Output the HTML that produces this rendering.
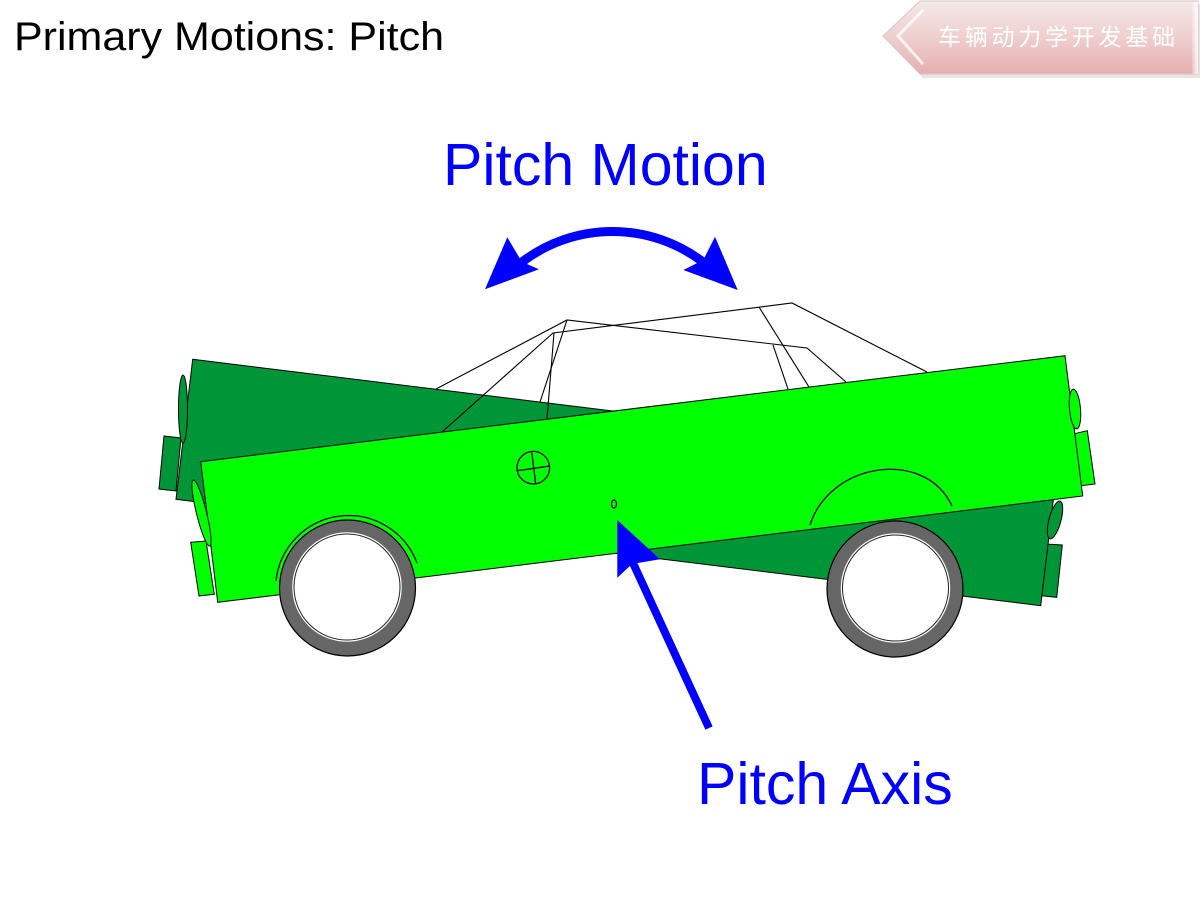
<!DOCTYPE html>
<html>
<head>
<meta charset="utf-8">
<style>
  html,body{margin:0;padding:0;background:#fff;}
  body{width:1200px;height:900px;overflow:hidden;}
  svg{display:block;}
</style>
</head>
<body>
<svg width="1200" height="900" viewBox="0 0 1200 900" xmlns="http://www.w3.org/2000/svg">
  <defs>
    <linearGradient id="badge" x1="0" y1="0" x2="0" y2="1">
      <stop offset="0" stop-color="#f4e8e8"/>
      <stop offset="0.5" stop-color="#efcfcf"/>
      <stop offset="1" stop-color="#e6aeae"/>
    </linearGradient>
    <linearGradient id="bevelR" x1="0" y1="0" x2="1" y2="0">
      <stop offset="0" stop-color="#ffffff" stop-opacity="0.2"/>
      <stop offset="1" stop-color="#ffffff" stop-opacity="0.9"/>
    </linearGradient>
  </defs>

  <!-- Title -->
  <text x="14" y="50" font-family="'Liberation Sans', sans-serif" font-size="40" fill="#000" textLength="430" lengthAdjust="spacingAndGlyphs">Primary Motions: Pitch</text>

  <!-- Badge -->
  <polygon points="886,39 923,4 1200,4 1200,78 923,78" fill="#d8d0d0" opacity="0.6"/>
  <polygon points="883,36 920,1 1198,1 1198,74 920,74" fill="url(#badge)" stroke="#d9c3c3" stroke-width="1"/>
  <polyline points="923,10 898,36 923,64" fill="none" stroke="#ffffff" stroke-width="3" opacity="0.75"/>
  <rect x="1192" y="2" width="6" height="72" fill="url(#bevelR)"/>
  <text x="938" y="45" font-family="'Liberation Sans','Noto Sans CJK SC',sans-serif" font-size="23" fill="#ffffff" textLength="237" lengthAdjust="spacing">车辆动力学开发基础</text>

  <!-- Dark (rear-pitched) body -->
  <polygon points="164,436 181,438 176,491 159,489" fill="#009637" stroke="#000" stroke-width="1"/>
  <polygon points="1045,544 1062.3,545 1056.7,597.3 1040.7,595.7" fill="#009637" stroke="#000" stroke-width="1"/>
  <polygon points="192.7,359.3 1057.4,465.7 1040.7,605.7 176,499.3" fill="#009637" stroke="#000" stroke-width="1"/>
  <ellipse cx="183" cy="409" rx="4.5" ry="34" fill="#009637" stroke="#000" stroke-width="1"/>
  <ellipse cx="1055" cy="520" rx="6" ry="19.5" transform="rotate(15 1055 520)" fill="#009637" stroke="#000" stroke-width="1"/>

  <!-- Roof wireframe -->
  <g fill="none" stroke="#000" stroke-width="1.1">
    <polyline points="436,389 567,320 807,348 846,382"/>
    <polyline points="442,432 553,333 792,303 927,372"/>
    <line x1="567" y1="320" x2="540" y2="402"/>
    <line x1="554" y1="333" x2="547" y2="419"/>
    <line x1="759" y1="307" x2="809" y2="387"/>
    <line x1="773" y1="345" x2="788" y2="389"/>
  </g>

  <!-- Light (front-pitched) body -->
  <polygon points="190.7,542.3 206,541 214.3,594.3 199,596" fill="#00ff00" stroke="#000" stroke-width="1"/>
  <polygon points="1071.7,434.3 1087.3,430.7 1095,484 1079.3,486" fill="#00ff00" stroke="#000" stroke-width="1"/>
  <polygon points="200.7,461.7 1065,355.7 1082.7,496 217.7,602.3" fill="#00ff00" stroke="#000" stroke-width="1"/>
  <ellipse cx="201.5" cy="513" rx="5" ry="34" transform="rotate(-14 201.5 513)" fill="#00ff00" stroke="#000" stroke-width="1"/>
  <ellipse cx="1075" cy="409" rx="5.5" ry="20" transform="rotate(-5 1075 409)" fill="#00ff00" stroke="#000" stroke-width="1"/>

  <!-- Body details -->
  <g fill="none" stroke="#000" stroke-width="1.3">
    <circle cx="533.3" cy="467.7" r="16.3"/>
    <line x1="517.3" y1="470.7" x2="550" y2="466"/>
    <line x1="531.7" y1="451.7" x2="535.7" y2="484"/>
    <ellipse cx="614" cy="504" rx="2.5" ry="4"/>
    <path d="M 276 581 A 73 73 0 0 1 417 563"/>
    <path d="M 810 525 C 830 462, 925 448, 952 506"/>
  </g>

  <!-- Wheels -->
  <g>
    <circle cx="347.5" cy="588" r="68" fill="#666666" stroke="#000" stroke-width="1.2"/>
    <circle cx="347" cy="587" r="54" fill="none" stroke="#ffffff" stroke-width="1.5"/>
    <circle cx="347" cy="587" r="53" fill="#ffffff" stroke="#222" stroke-width="1"/>
    <circle cx="895" cy="589" r="68" fill="#666666" stroke="#000" stroke-width="1.2"/>
    <circle cx="895.5" cy="588" r="54" fill="none" stroke="#ffffff" stroke-width="1.5"/>
    <circle cx="895.5" cy="588" r="53" fill="#ffffff" stroke="#222" stroke-width="1"/>
  </g>

  <!-- Pitch motion arrow -->
  <path d="M 522 262 A 149.5 149.5 0 0 1 703 262" fill="none" stroke="#0000ff" stroke-width="9"/>
  <polygon points="485,289.3 507.3,237.3 521.7,261.7 539,269.3" fill="#0000ff"/>
  <polygon points="737.7,290 715,236.7 703.3,260 683.3,270" fill="#0000ff"/>

  <!-- Pitch axis arrow -->
  <line x1="633" y1="563" x2="709" y2="728" stroke="#0000ff" stroke-width="8"/>
  <polygon points="617.3,520 660,559.3 632,564 617.3,577.7" fill="#0000ff"/>

  <!-- Labels -->
  <text x="443" y="185" font-family="'Liberation Sans', sans-serif" font-size="59" fill="#0000ff">Pitch Motion</text>
  <text x="697" y="804" font-family="'Liberation Sans', sans-serif" font-size="59" fill="#0000ff">Pitch Axis</text>
</svg>
</body>
</html>
